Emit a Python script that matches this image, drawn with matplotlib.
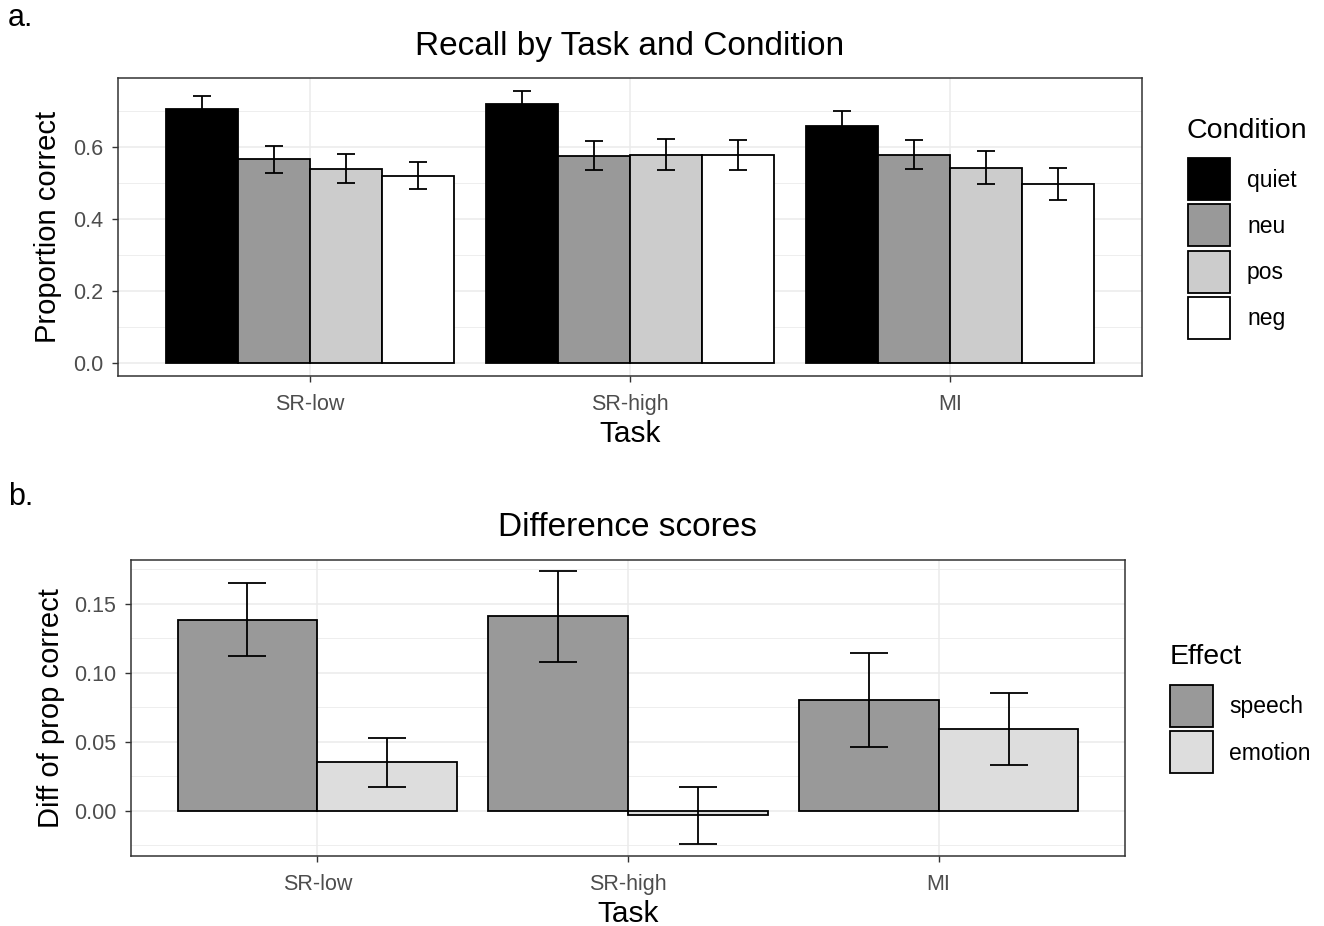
import numpy as np
import matplotlib
matplotlib.use('Agg')
import matplotlib.pyplot as plt
from matplotlib.patches import Rectangle

plt.rcParams['font.family'] = ['Liberation Sans', 'DejaVu Sans']

# Panel a data
tasks = ['SR-low', 'SR-high', 'MI']
conditions = ['quiet', 'neu', 'pos', 'neg']
cond_colors = ['#000000', '#999999', '#CCCCCC', '#FFFFFF']
recall_mean = {
    'quiet': [0.704, 0.717, 0.658],
    'neu':   [0.566, 0.575, 0.577],
    'pos':   [0.539, 0.578, 0.542],
    'neg':   [0.520, 0.577, 0.496],
}
recall_lo = {
    'quiet': [0.667, 0.680, 0.617],
    'neu':   [0.527, 0.534, 0.538],
    'pos':   [0.499, 0.535, 0.497],
    'neg':   [0.484, 0.535, 0.451],
}
recall_hi = {
    'quiet': [0.741, 0.754, 0.699],
    'neu':   [0.603, 0.616, 0.617],
    'pos':   [0.580, 0.621, 0.588],
    'neg':   [0.558, 0.619, 0.541],
}

# Panel b data
effects = ['speech', 'emotion']
effect_colors = ['#999999', '#DDDDDD']
diff_mean = {
    'speech':  [0.138, 0.141, 0.080],
    'emotion': [0.035, -0.003, 0.059],
}
diff_lo = {
    'speech':  [0.112, 0.108, 0.046],
    'emotion': [0.017, -0.024, 0.033],
}
diff_hi = {
    'speech':  [0.165, 0.174, 0.114],
    'emotion': [0.053, 0.017, 0.085],
}

W, H = 1324, 926
fig = plt.figure(figsize=(W / 100, H / 100), dpi=100)


def fx(px):
    return px / W


def fy(py):
    return 1 - py / H


def style_axes(ax, major, minor, ylim):
    ax.set_facecolor('white')
    ax.set_xlim(0.4, 3.6)
    ax.set_ylim(*ylim)
    ax.set_yticks(major)
    ax.set_yticks(minor, minor=True)
    ax.set_xticks([1, 2, 3])
    ax.set_xticklabels(tasks)
    ax.grid(True, which='major', color='#EBEBEB', linewidth=1.1, zorder=0)
    ax.grid(True, which='minor', axis='y', color='#EBEBEB', linewidth=0.6, zorder=0)
    ax.set_axisbelow(True)
    for s in ax.spines.values():
        s.set_color('#333333')
        s.set_linewidth(1.1)
    ax.tick_params(which='major', length=4.2, width=1.0, color='#333333',
                   labelsize=15.5, labelcolor='#4D4D4D')
    ax.tick_params(axis='x', pad=8.5)
    ax.tick_params(axis='y', pad=6.5)
    ax.tick_params(which='minor', length=0)


# ---- panel a ----
ax1 = fig.add_axes([fx(118), fy(376), fx(1142) - fx(118), fy(78) - fy(376)])
style_axes(ax1, [0, 0.2, 0.4, 0.6], [0.1, 0.3, 0.5, 0.7], (-0.035, 0.79))
ax1.set_yticklabels(['0.0', '0.2', '0.4', '0.6'])
x = np.arange(1, 4)
bw = 0.9 / 4
for i, c in enumerate(conditions):
    xs = x - 0.45 + bw * (i + 0.5)
    m = np.array(recall_mean[c])
    lo = np.array(recall_lo[c])
    hi = np.array(recall_hi[c])
    ax1.bar(xs, m, width=bw, color=cond_colors[i], edgecolor='black',
            linewidth=1.3, zorder=2)
    ax1.errorbar(xs, m, yerr=[m - lo, hi - m], fmt='none', ecolor='black',
                 elinewidth=1.3, capsize=6.8, capthick=1.3, zorder=3)
ax1.set_xlabel('Task', fontsize=21.5, va='center')
ax1.xaxis.set_label_coords(0.5, (376 - 434) / 298)
ax1.set_ylabel('Proportion correct', fontsize=21, va='center')
ax1.yaxis.set_label_coords((48 - 118) / 1024, 0.5)
fig.text(fx(630), fy(47), 'Recall by Task and Condition', fontsize=24,
         ha='center', va='center')
fig.text(fx(8), fy(18), 'a.', fontsize=22, ha='left', va='center')

# legend a
fig.text(fx(1187), fy(131), 'Condition', fontsize=20.5, ha='left', va='center')
for i, c in enumerate(conditions):
    top = 158 + i * 46.3
    fig.patches.append(Rectangle((fx(1188), fy(top + 42)), fx(42), 42 / H,
                                 transform=fig.transFigure, facecolor=cond_colors[i],
                                 edgecolor='black', linewidth=1.3))
    fig.text(fx(1247), fy(top + 22), c, fontsize=16.5, ha='left', va='center')

# ---- panel b ----
ax2 = fig.add_axes([fx(131), fy(856), fx(1125) - fx(131), fy(560) - fy(856)])
style_axes(ax2, [0, 0.05, 0.10, 0.15], [-0.025, 0.025, 0.075, 0.125, 0.175],
           (-0.0328, 0.1817))
ax2.set_yticklabels(['0.00', '0.05', '0.10', '0.15'])
bw2 = 0.9 / 2
for i, e in enumerate(effects):
    xs = x - 0.45 + bw2 * (i + 0.5)
    m = np.array(diff_mean[e])
    lo = np.array(diff_lo[e])
    hi = np.array(diff_hi[e])
    ax2.bar(xs, m, width=bw2, color=effect_colors[i], edgecolor='black',
            linewidth=1.3, zorder=2)
    ax2.errorbar(xs, m, yerr=[m - lo, hi - m], fmt='none', ecolor='black',
                 elinewidth=1.3, capsize=13.7, capthick=1.3, zorder=3)
ax2.set_xlabel('Task', fontsize=21.5, va='center')
ax2.xaxis.set_label_coords(0.5, (856 - 914) / 296)
ax2.set_ylabel('Diff of prop correct', fontsize=21, va='center')
ax2.yaxis.set_label_coords((51 - 131) / 994, 0.5)
fig.text(fx(627), fy(527), 'Difference scores', fontsize=24,
         ha='center', va='center')
fig.text(fx(8), fy(497), 'b.', fontsize=22, ha='left', va='center')

# legend b
fig.text(fx(1170), fy(657), 'Effect', fontsize=20.5, ha='left', va='center')
for i, e in enumerate(effects):
    top = 685 + i * 46
    fig.patches.append(Rectangle((fx(1170), fy(top + 42)), fx(43), 42 / H,
                                 transform=fig.transFigure, facecolor=effect_colors[i],
                                 edgecolor='black', linewidth=1.3))
    fig.text(fx(1229), fy(top + 22), e, fontsize=16.5, ha='left', va='center')

fig.savefig('out.png', dpi=100, facecolor='white')
